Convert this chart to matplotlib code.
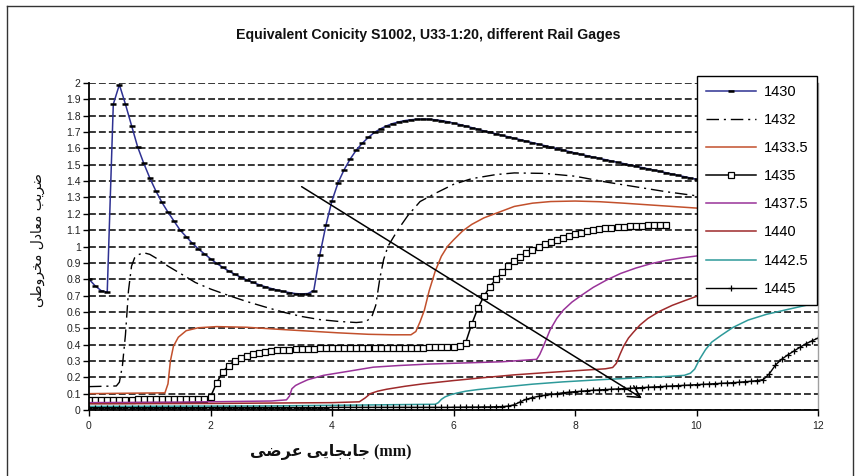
import numpy as np
import matplotlib
matplotlib.use("Agg")
import matplotlib.pyplot as plt
from matplotlib.lines import Line2D

plt.rcParams['font.family'] = ['Liberation Sans', 'DejaVu Sans']

# ---------------- data ----------------
title_text = "Equivalent Conicity S1002, U33-1:20, different Rail Gages"
ylabel_text = "ضریب معادل مخروطی"
xlabel_text = "جابجایی عرضی"
xlabel_unit = "(mm)"
series_names = ["1430", "1432", "1433.5", "1435", "1437.5", "1440", "1442.5", "1445"]
x_ticks = [0, 2, 4, 6, 8, 10, 12]
y_ticks = [0, 0.1, 0.2, 0.3, 0.4, 0.5, 0.6, 0.7, 0.8, 0.9, 1, 1.1, 1.2, 1.3, 1.4,
           1.5, 1.6, 1.7, 1.8, 1.9, 2]
y_tick_labels = ["0", "0.1", "0.2", "0.3", "0.4", "0.5", "0.6", "0.7", "0.8", "0.9", "1",
                 "1.1", "1.2", "1.3", "1.4", "1.5", "1.6", "1.7", "1.8", "1.9", "2"]

# 1430: sampled every 0.1 mm from 0 to 10
x_1430 = np.round(np.arange(0, 10.001, 0.1), 1)
y_1430 = [0.80, 0.76, 0.73, 0.72, 1.87, 1.99, 1.87, 1.74, 1.61, 1.51,
          1.42, 1.34, 1.27, 1.21, 1.155, 1.10, 1.06, 1.02, 0.985, 0.955,
          0.925, 0.897, 0.873, 0.85, 0.83, 0.812, 0.795, 0.78, 0.766, 0.754,
          0.743, 0.733, 0.725, 0.718, 0.712, 0.71, 0.712, 0.73, 0.95, 1.13,
          1.28, 1.39, 1.47, 1.535, 1.59, 1.632, 1.668, 1.698, 1.72, 1.738,
          1.752, 1.762, 1.77, 1.775, 1.778, 1.779, 1.778, 1.775, 1.77, 1.763,
          1.755, 1.746, 1.737, 1.727, 1.717, 1.707, 1.698, 1.689, 1.68, 1.671,
          1.662, 1.653, 1.644, 1.635, 1.626, 1.617, 1.608, 1.599, 1.59, 1.581,
          1.572, 1.563, 1.555, 1.547, 1.539, 1.531, 1.523, 1.515, 1.507, 1.499,
          1.491, 1.483, 1.475, 1.467, 1.459, 1.451, 1.443, 1.435, 1.427, 1.419,
          1.411]

x_1432 = [0, 0.45, 0.5, 0.55, 0.6, 0.65, 0.7, 0.75, 0.8, 0.9, 1.0, 1.1, 1.3, 1.5, 1.75,
          2.0, 2.3, 2.6, 2.9, 3.2, 3.5, 3.8, 4.1, 4.4, 4.55, 4.65, 4.72, 4.79, 4.85,
          4.92, 5.0, 5.1, 5.25, 5.45, 5.7, 6.0, 6.3, 6.7, 7.0, 7.5, 8.0, 8.5, 9.0,
          9.5, 10.0]
y_1432 = [0.143, 0.147, 0.17, 0.27, 0.46, 0.73, 0.88, 0.93, 0.948, 0.962, 0.952, 0.93,
          0.88, 0.836, 0.78, 0.74, 0.70, 0.663, 0.63, 0.598, 0.572, 0.553, 0.542, 0.535,
          0.54, 0.565, 0.64, 0.81, 0.92, 1.0, 1.05, 1.11, 1.19, 1.275, 1.325, 1.38,
          1.415, 1.44, 1.45, 1.447, 1.43, 1.395, 1.365, 1.335, 1.31]

x_14335 = [0, 1.25, 1.3, 1.34, 1.39, 1.47, 1.6, 1.8, 2.1, 2.6, 3.1, 3.6, 4.1, 4.6, 5.0,
           5.3, 5.38, 5.45, 5.52, 5.6, 5.7, 5.8, 5.9, 6.0, 6.15, 6.3, 6.5, 6.75, 7.0,
           7.3, 7.6, 8.0, 8.4, 8.8, 9.2, 9.6, 10.0]
y_14335 = [0.10, 0.105, 0.16, 0.30, 0.39, 0.445, 0.485, 0.503, 0.51, 0.506, 0.494,
           0.483, 0.472, 0.463, 0.46, 0.46, 0.48, 0.54, 0.61, 0.73, 0.85, 0.94, 1.00,
           1.04, 1.095, 1.135, 1.175, 1.21, 1.245, 1.265, 1.275, 1.278, 1.274, 1.265,
           1.255, 1.245, 1.235]

# 1435: sampled every 0.1 mm from 0 to 9.5
x_1435 = np.round(np.arange(0, 9.501, 0.1), 1)
y_1435 = [0.062, 0.062, 0.063, 0.063, 0.063, 0.064, 0.064, 0.064, 0.065, 0.065,
          0.065, 0.066, 0.066, 0.066, 0.067, 0.067, 0.067, 0.068, 0.068, 0.07,
          0.08, 0.165, 0.232, 0.272, 0.302, 0.32, 0.333, 0.342, 0.349, 0.355,
          0.36, 0.364, 0.367, 0.37, 0.372, 0.374, 0.375, 0.376, 0.377, 0.377,
          0.378, 0.378, 0.379, 0.379, 0.379, 0.38, 0.38, 0.38, 0.38, 0.381,
          0.381, 0.381, 0.381, 0.382, 0.382, 0.382, 0.383, 0.383, 0.384, 0.385,
          0.386, 0.39, 0.412, 0.525, 0.622, 0.695, 0.755, 0.80, 0.843, 0.879,
          0.91, 0.937, 0.96, 0.98, 0.997, 1.013, 1.027, 1.04, 1.053, 1.065,
          1.075, 1.085, 1.094, 1.101, 1.107, 1.112, 1.116, 1.119, 1.122, 1.124,
          1.126, 1.128, 1.129, 1.13, 1.131, 1.131]

x_14375 = [0, 1.5, 3.0, 3.25, 3.3, 3.34, 3.4, 3.47, 3.6, 3.86, 4.24, 4.68, 5.1, 5.6, 6.2,
           6.8, 7.37, 7.42, 7.48, 7.59, 7.7, 7.81, 7.95, 8.1, 8.3, 8.52, 8.75, 9.0,
           9.25, 9.5, 9.75, 10.0]
y_14375 = [0.045, 0.048, 0.055, 0.062, 0.085, 0.13, 0.15, 0.163, 0.185, 0.212, 0.235,
           0.262, 0.272, 0.281, 0.288, 0.295, 0.31, 0.34, 0.39, 0.49, 0.56, 0.612, 0.66,
           0.70, 0.75, 0.795, 0.835, 0.868, 0.895, 0.915, 0.93, 0.942]

x_1440 = [0, 2.0, 4.0, 4.45, 4.55, 4.63, 4.75, 4.9, 5.2, 5.5, 6.0, 6.5, 7.0, 7.5, 8.0,
          8.5, 8.62, 8.68, 8.74, 8.8, 8.88, 8.96, 9.07, 9.2, 9.4, 9.6, 9.8, 10.0]
y_1440 = [0.038, 0.04, 0.045, 0.05, 0.075, 0.1, 0.115, 0.127, 0.145, 0.16, 0.18, 0.198,
          0.215, 0.228, 0.24, 0.252, 0.26, 0.285, 0.34, 0.39, 0.44, 0.475, 0.52, 0.56,
          0.605, 0.64, 0.668, 0.695]

x_14425 = [0, 3.0, 5.7, 5.75, 5.8, 5.86, 5.94, 6.05, 6.2, 6.4, 6.8, 7.3, 7.8, 8.4, 9.0,
           9.5, 9.8, 9.9, 9.97, 10.05, 10.15, 10.25, 10.4, 10.6, 10.85, 11.15, 11.5,
           11.8, 12.0]
y_14425 = [0.022, 0.025, 0.035, 0.045, 0.065, 0.08, 0.092, 0.103, 0.115, 0.125, 0.14,
           0.158, 0.172, 0.185, 0.196, 0.205, 0.212, 0.225, 0.25, 0.31, 0.37, 0.415,
           0.455, 0.505, 0.55, 0.585, 0.615, 0.64, 0.655]

# 1445: sampled every 0.1 mm from 0 to 12
x_1445 = np.round(np.arange(0, 12.001, 0.1), 1)
y_1445 = [0.014, 0.014, 0.014, 0.014, 0.014, 0.014, 0.014, 0.014, 0.014, 0.014,
          0.014, 0.014, 0.014, 0.014, 0.014, 0.014, 0.014, 0.014, 0.014, 0.014,
          0.015, 0.015, 0.015, 0.015, 0.015, 0.015, 0.015, 0.015, 0.015, 0.015,
          0.015, 0.015, 0.015, 0.015, 0.015, 0.015, 0.015, 0.015, 0.015, 0.015,
          0.016, 0.016, 0.016, 0.016, 0.016, 0.016, 0.016, 0.016, 0.016, 0.016,
          0.016, 0.016, 0.016, 0.016, 0.016, 0.016, 0.016, 0.016, 0.016, 0.016,
          0.017, 0.017, 0.018, 0.018, 0.018, 0.019, 0.019, 0.02, 0.021, 0.024,
          0.032, 0.05, 0.066, 0.076, 0.084, 0.09, 0.095, 0.1, 0.105, 0.109,
          0.112, 0.115, 0.118, 0.121, 0.123, 0.125, 0.127, 0.129, 0.131, 0.133,
          0.135, 0.137, 0.139, 0.141, 0.143, 0.145, 0.147, 0.149, 0.151, 0.153,
          0.155, 0.157, 0.159, 0.161, 0.163, 0.165, 0.167, 0.17, 0.173, 0.176,
          0.18, 0.186, 0.222, 0.275, 0.31, 0.336, 0.36, 0.383, 0.405, 0.423,
          0.44]

arrow_start = (3.5, 1.366)
arrow_end = (9.1, 0.072)

# ---------------- Persian shaping helper (display only) ----------------
AR_FORMS = {
    '\u0627': ('\uFE8D', '\uFE8E', None, None),
    '\u0628': ('\uFE8F', '\uFE90', '\uFE91', '\uFE92'),
    '\u062C': ('\uFE9D', '\uFE9E', '\uFE9F', '\uFEA0'),
    '\u062E': ('\uFEA5', '\uFEA6', '\uFEA7', '\uFEA8'),
    '\u062F': ('\uFEA9', '\uFEAA', None, None),
    '\u0631': ('\uFEAD', '\uFEAE', None, None),
    '\u0636': ('\uFEBD', '\uFEBE', '\uFEBF', '\uFEC0'),
    '\u0637': ('\uFEC1', '\uFEC2', '\uFEC3', '\uFEC4'),
    '\u0639': ('\uFEC9', '\uFECA', '\uFECB', '\uFECC'),
    '\u0644': ('\uFEDD', '\uFEDE', '\uFEDF', '\uFEE0'),
    '\u0645': ('\uFEE1', '\uFEE2', '\uFEE3', '\uFEE4'),
    '\u0648': ('\uFEED', '\uFEEE', None, None),
    '\u06CC': ('\uFEEF', '\uFEF0', '\uFEF3', '\uFEF4'),
}


def shape_rtl(s):
    out = []
    n = len(s)
    for i, c in enumerate(s):
        f = AR_FORMS.get(c)
        if f is None:
            out.append(c)
            continue
        prev = s[i - 1] if i > 0 else None
        nxt = s[i + 1] if i < n - 1 else None
        jp = prev in AR_FORMS and AR_FORMS[prev][2] is not None
        jn = f[2] is not None and nxt in AR_FORMS
        if jp and jn:
            out.append(f[3])
        elif jp:
            out.append(f[1])
        elif jn:
            out.append(f[2])
        else:
            out.append(f[0])
    return ''.join(reversed(out))


# ---------------- figure ----------------
W, H = 859, 476
fig = plt.figure(figsize=(W / 100, H / 100), dpi=100)
ax = fig.add_axes([89 / W, 1 - 410 / H, 729 / W, 327 / H])

ax.plot(x_1430, y_1430, color='#2E3192', lw=1.1, marker='_', ms=3.8, mew=1.8,
        mec='black', mfc='black', label=series_names[0])
ax.plot(x_1432, y_1432, color='black', lw=1.0, linestyle=(0, (9, 3.5, 1.5, 3.5)),
        label=series_names[1])
ax.plot(x_14335, y_14335, color='#C2502C', lw=1.1, label=series_names[2])
ax.plot(x_1435, y_1435, color='black', lw=1.1, marker='s', ms=4.8, mfc='white',
        mec='black', mew=0.9, label=series_names[3])
ax.plot(x_14375, y_14375, color='#993399', lw=1.1, label=series_names[4])
ax.plot(x_1440, y_1440, color='#9E2A2B', lw=1.1, label=series_names[5])
ax.plot(x_14425, y_14425, color='#2E9A9A', lw=1.1, label=series_names[6])
ax.plot(x_1445, y_1445, color='black', lw=1.0, marker='+', ms=5, mew=0.9,
        label=series_names[7])

ax.annotate('', xy=arrow_end, xytext=arrow_start,
            arrowprops=dict(arrowstyle='->,head_length=0.85,head_width=0.45',
                            color='black', lw=1.1, shrinkA=0, shrinkB=0,
                            mutation_scale=10))

ax.set_xlim(0, 12)
ax.set_ylim(0, 2)
ax.set_xticks(x_ticks)
ax.set_xticklabels([str(v) for v in x_ticks])
ax.set_yticks(y_ticks)
ax.set_yticklabels(y_tick_labels)
ax.tick_params(axis='both', direction='out', length=4, width=1, color='black',
               labelsize=7.5, labelcolor='#222222', pad=2)
ax.tick_params(axis='x', pad=4)

ax.grid(axis='y', color='black', linestyle=(0, (4.5, 2)), linewidth=1.1)
ax.grid(axis='x', visible=False)
for side in ('left', 'bottom'):
    ax.spines[side].set_color('black')
    ax.spines[side].set_linewidth(1.3)
ax.spines['top'].set_visible(False)
ax.spines['right'].set_color('#A0A0A0')
ax.spines['right'].set_linewidth(1.0)

leg = ax.legend(loc='upper right', bbox_to_anchor=(0.9986, 1.0214), borderaxespad=0,
                frameon=True, fancybox=False, edgecolor='black', framealpha=1,
                fontsize=10.5, handlelength=3.4, handletextpad=0.55, borderpad=0.6,
                labelspacing=0.97, numpoints=1)
leg.get_frame().set_linewidth(1.0)

fig.text(0.499, 1 - 35 / H, title_text, ha='center', va='center', fontsize=10.2,
         fontweight='bold', color='#111111')
fig.text(38 / W, 1 - 240 / H, shape_rtl(ylabel_text), rotation=90, ha='center',
         va='center', fontsize=10, family=['DejaVu Sans'], color='#111111')
fig.text(331 / W, 1 - 452 / H, shape_rtl(xlabel_text) + ' ' + xlabel_unit,
         ha='center', va='center', fontsize=11.5, fontweight='bold',
         family=['Liberation Serif', 'DejaVu Sans'], color='#111111')

# outer chart frame
fc = '#333333'
fig.add_artist(Line2D([7 / W, 7 / W], [0, 1 - 6 / H], transform=fig.transFigure, color=fc, lw=1))
fig.add_artist(Line2D([7 / W, 853 / W], [1 - 6 / H, 1 - 6 / H], transform=fig.transFigure, color=fc, lw=1))
fig.add_artist(Line2D([853 / W, 853 / W], [0, 1 - 6 / H], transform=fig.transFigure, color=fc, lw=1))

fig.savefig('out.png', dpi=100)
